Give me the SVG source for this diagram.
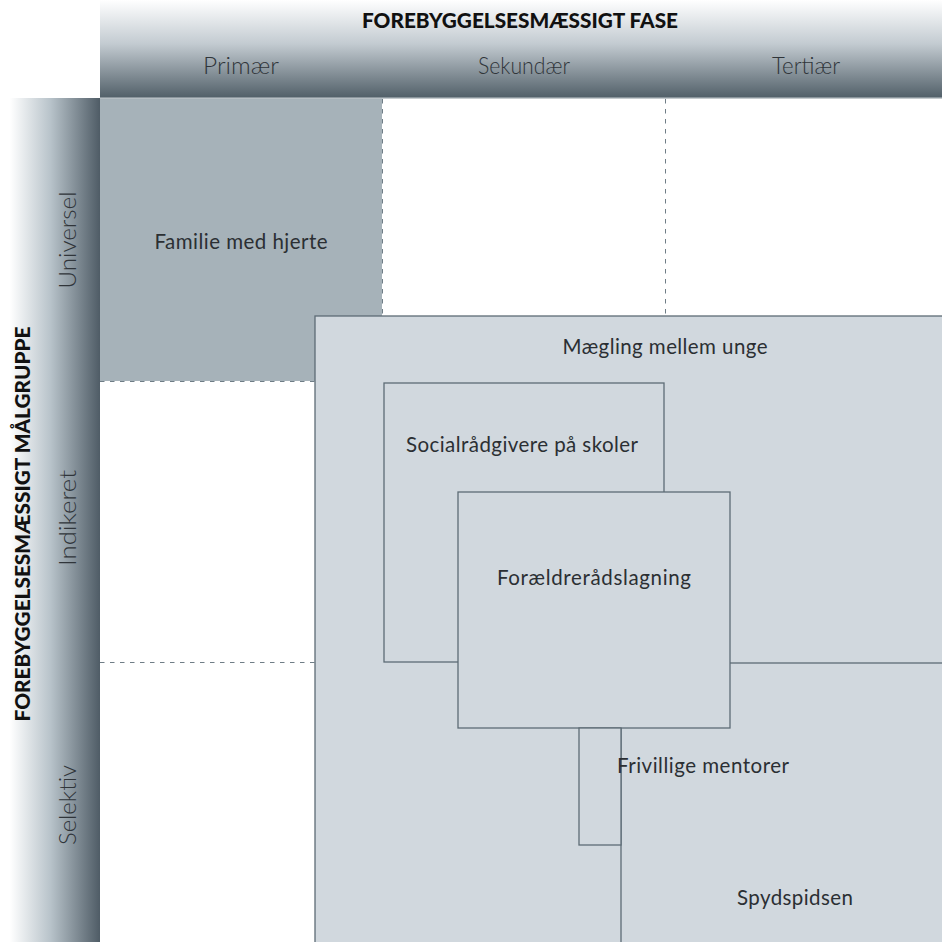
<svg xmlns="http://www.w3.org/2000/svg" width="942" height="942" viewBox="0 0 942 942">
<defs>
<linearGradient id="gTop" x1="0" y1="0" x2="0" y2="1">
<stop offset="0" stop-color="#ffffff"/>
<stop offset="0.45" stop-color="#c3cbd1"/>
<stop offset="1" stop-color="#53616a"/>
</linearGradient>
<linearGradient id="gLeft" x1="0" y1="0" x2="1" y2="0">
<stop offset="0" stop-color="#ffffff"/>
<stop offset="0.45" stop-color="#b8c3ca"/>
<stop offset="1" stop-color="#4f5c66"/>
</linearGradient>
<style>
.box{fill:#d1d8de;stroke:#5d6c75;stroke-width:1.3}
.dash{stroke:#6f7d86;stroke-width:1;stroke-dasharray:4.5 5.5;fill:none}
.lbl{font-family:Lato,"Liberation Sans",sans-serif;font-weight:300;font-size:23px;fill:#30353a;text-anchor:middle}
.ttl{font-family:Lato,"Liberation Sans",sans-serif;font-weight:900;font-size:20px;fill:#111;text-anchor:middle}
.txt{font-family:Lato,"Liberation Sans",sans-serif;font-weight:400;font-size:20.5px;fill:#2b2f33;text-anchor:middle}
</style>
</defs>
<rect width="942" height="942" fill="#ffffff"/>
<g id="header-top">
<rect x="100" y="0" width="842" height="97" fill="url(#gTop)"/>
<rect x="100" y="97" width="842" height="1.5" fill="#8a959c"/>
<text class="ttl" x="520" y="28" textLength="316" lengthAdjust="spacingAndGlyphs">FOREBYGGELSESMÆSSIGT FASE</text>
<text class="lbl" x="241" y="74" textLength="76" lengthAdjust="spacingAndGlyphs">Primær</text>
<text class="lbl" x="524" y="74" textLength="92" lengthAdjust="spacingAndGlyphs">Sekundær</text>
<text class="lbl" x="806" y="74" textLength="68" lengthAdjust="spacingAndGlyphs">Tertiær</text>
</g>
<g id="header-left">
<rect x="10" y="98" width="90" height="844" fill="url(#gLeft)"/>
<text class="ttl" transform="translate(30,524) rotate(-90)" textLength="395" lengthAdjust="spacingAndGlyphs">FOREBYGGELSESMÆSSIGT MÅLGRUPPE</text>
<text class="lbl" transform="translate(76,240) rotate(-90)" textLength="97" lengthAdjust="spacingAndGlyphs">Universel</text>
<text class="lbl" transform="translate(76,518) rotate(-90)" textLength="96" lengthAdjust="spacingAndGlyphs">Indikeret</text>
<text class="lbl" transform="translate(76,805) rotate(-90)" textLength="80" lengthAdjust="spacingAndGlyphs">Selektiv</text>
</g>
<g id="grid">
<rect x="100" y="98.5" width="282" height="282.5" fill="#a6b2b9"/>
<line class="dash" x1="382.5" y1="99" x2="382.5" y2="316"/>
<line class="dash" x1="665.5" y1="99" x2="665.5" y2="316"/>
<line class="dash" x1="100" y1="381.5" x2="315" y2="381.5"/>
<line class="dash" x1="100" y1="662.5" x2="315" y2="662.5"/>
</g>
<g id="familie">
<text class="txt" x="241" y="249" textLength="173">Familie med hjerte</text>
</g>
<g id="maegling">
<rect class="box" x="315" y="316" width="640" height="640"/>
<text class="txt" x="665" y="354" textLength="205">Mægling mellem unge</text>
</g>
<g id="social">
<rect class="box" x="384" y="383" width="280" height="279"/>
<text class="txt" x="522" y="452" textLength="232">Socialrådgivere på skoler</text>
</g>
<g id="spydspidsen">
<rect class="box" x="621" y="663" width="330" height="290"/>
<text class="txt" x="795" y="905" textLength="116">Spydspidsen</text>
</g>
<g id="foraeldre">
<rect class="box" x="458" y="492" width="272" height="236"/>
<text class="txt" x="594" y="585" textLength="194">Forældrerådslagning</text>
</g>
<g id="frivillige">
<rect class="box" x="579" y="728" width="42" height="117"/>
<text class="txt" x="703" y="773" textLength="172">Frivillige mentorer</text>
</g>
</svg>
